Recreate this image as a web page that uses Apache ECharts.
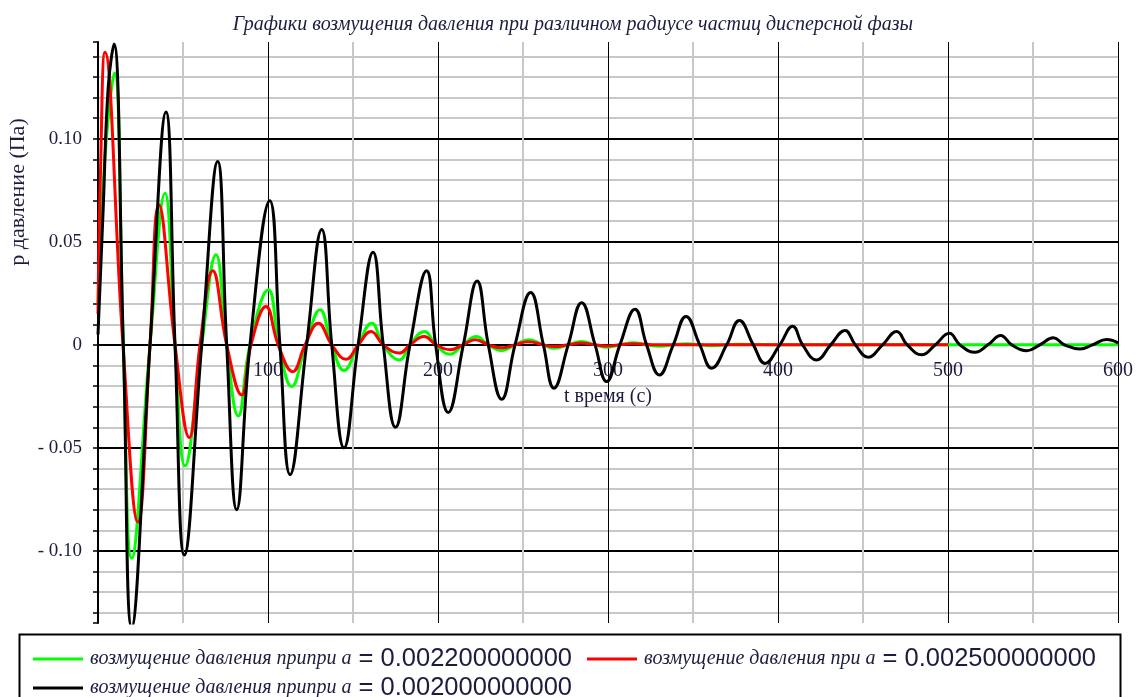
<!DOCTYPE html>
<html>
<head>
<meta charset="utf-8">
<script src="https://cdn.jsdelivr.net/npm/echarts@6/dist/echarts.min.js"></script>
<style>
  html, body { margin: 0; padding: 0; background: #fff; }
  #chart { width: 1146px; height: 697px; }
</style>
</head>
<body>
<div id="chart"></div>
<script>
// имена кривых (как в легенде)
const seriesNames = [
    'возмущение давления припри a = 0.002200000000',
    'возмущение давления при a = 0.002500000000',
    'возмущение давления припри a = 0.002000000000'
];

// a = 0.0022 (зелёная) — время, давление
const greenT = [0, 4, 9.7, 14.9, 19.8, 30.6, 39.4, 45.3, 51.2, 61, 69.4, 75.7, 82.5, 89.4, 100.2, 106.5, 113.9, 122.2,
    130.6, 137.5, 144.7, 153, 161, 167.8, 177.3, 183.5, 192, 198.8, 207, 214.7, 222.5, 229.6, 237.5, 245.3, 253.5, 262,
    268.5, 276.6, 284.5, 292.4, 299.5, 307, 315, 322.7, 330.5, 338.4, 346, 354, 361, 369.8, 377, 400, 500, 600];
const greenP = [0.02, 0.09, 0.132, 0, -0.1036, 0, 0.0736, 0, -0.0587, 0, 0.0437, 0, -0.0345, 0, 0.0267, 0, -0.0202, 0,
    0.017, 0, -0.0125, 0, 0.0105, 0, -0.0073, 0, 0.0065, 0, -0.0045, 0, 0.004, 0, -0.0028, 0, 0.0025, 0,
    -0.0017, 0, 0.0016, 0, -0.0011, 0, 0.001, 0, -0.0007, 0, 0.0006, 0, -0.0004, 0, 0.0003, 0, 0, 0];

// a = 0.0025 (красная), кривая заканчивается на t = 500
const redT = [0, 1.5, 4.1, 14.7, 23.5, 30.6, 35.8, 45.3, 53.7, 60, 67.5, 75.7, 84.5, 90, 98.8, 106, 114.5, 121.8,
    129.6, 137.5, 145.9, 153.1, 160.6, 167.8, 177.3, 183.5, 191.8, 199, 207, 214.5, 222, 229.6, 237.5, 245.3, 253, 262,
    268, 276.6, 284, 292.4, 299, 307, 314, 330, 400, 500];
const redP = [0.015, 0.085, 0.142, 0, -0.086, 0, 0.068, 0, -0.045, 0, 0.036, 0, -0.0243, 0, 0.0186, 0, -0.013, 0,
    0.0105, 0, -0.007, 0, 0.0065, 0, -0.004, 0, 0.004, 0, -0.0024, 0, 0.0025, 0, -0.0014, 0, 0.0015, 0,
    -0.0008, 0, 0.0009, 0, -0.0005, 0, 0.0005, 0, 0, 0];

// a = 0.002 (чёрная)
const blackT = [0, 3, 6, 9.4, 14.9, 19.8, 30.6, 40, 45.3, 50.8, 61, 70.4, 75.7, 81.6, 89.4, 101, 107, 113, 122.7,
    131.6, 137.5, 144.7, 153, 161.8, 167.8, 175, 183.5, 193.3, 198.6, 206, 214.9, 223, 229.6, 237.5, 245.3, 254.5, 262,
    268.2, 276.6, 284.5, 292.4, 299.2, 307, 315.9, 322.7, 330.2, 338.4, 345.9, 354, 361, 369.8, 377.3, 385.5, 392.4, 401,
    408.6, 414.5, 422.7, 431, 439.4, 445.5, 453, 461.5, 469.8, 476, 484.5, 492.5, 500.8, 507, 515.9, 523.5, 531, 537.5,
    546.3, 554, 562, 568.5, 577.6, 585, 593.3, 600];
const blackP = [0.005, 0.065, 0.125, 0.146, 0, -0.137, 0, 0.113, 0, -0.102, 0, 0.089, 0, -0.080, 0, 0.070, 0, -0.063, 0,
    0.056, 0, -0.050, 0, 0.045, 0, -0.040, 0, 0.036, 0, -0.0328, 0, 0.031, 0, -0.0264, 0, 0.0254, 0,
    -0.021, 0, 0.0205, 0, -0.0178, 0, 0.0173, 0, -0.0146, 0, 0.0138, 0, -0.0113, 0, 0.0118, 0, -0.009, 0,
    0.009, 0, -0.0073, 0, 0.007, 0, -0.006, 0, 0.0065, 0, -0.0048, 0, 0.0056, 0, -0.0036, 0, 0.0045, 0,
    -0.0028, 0, 0.0034, 0, -0.002, 0, 0.0026, 0.001];

const toPairs = (t, p) => t.map((v, i) => [v, p[i]]);

const labelColor = '#1c1c40';
const yMin = -0.135;
const yMax = 0.147;
const gridTop = 42;
const gridBottom = 74;
const chart = echarts.init(document.getElementById('chart'));

// ось t проходит через p = 0: сдвигаем её вверх от нижнего края сетки
const plotH = 697 - gridTop - gridBottom;
const zeroOffset = -Math.round(plotH * (0 - yMin) / (yMax - yMin));

const makeSeries = (name, color, data) => ({
    name: name,
    type: 'line',
    data: data,
    smooth: 0.45,
    showSymbol: false,
    symbol: 'none',
    color: color,
    lineStyle: { color: color, width: 3 },
    itemStyle: { color: color }
});

// общий вид строки легенды
const legendRow = (names, top) => ({
    data: names,
    left: 28,
    top: top,
    itemWidth: 50,
    itemHeight: 3,
    itemGap: 15,
    icon: 'rect',
    formatter: function (name) {
        const k = name.indexOf(' = ');
        return '{i|' + name.slice(0, k) + '}{n| ' + name.slice(k + 1) + '}';
    },
    textStyle: {
        rich: {
            i: { fontFamily: 'Liberation Serif', fontStyle: 'italic', fontSize: 20, color: labelColor, padding: [0, 0, 0, 2] },
            n: { fontFamily: 'Liberation Sans', fontSize: 25.5, color: labelColor }
        }
    }
});

chart.setOption({
    animation: false,
    title: {
        text: 'Графики возмущения давления при различном радиусе частиц дисперсной фазы',
        left: 'center',
        top: 10,
        textStyle: {
            fontFamily: 'Liberation Serif',
            fontStyle: 'italic',
            fontWeight: 'normal',
            fontSize: 20,
            color: labelColor
        }
    },
    grid: { left: 98, right: 28, top: gridTop, bottom: gridBottom },
    legend: [
        legendRow([seriesNames[0], seriesNames[1]], 641),
        legendRow([seriesNames[2]], 670)
    ],
    graphic: [
        {
            type: 'rect',
            left: 17, top: 632,
            shape: { width: 1101, height: 80 },
            style: { fill: 'none', stroke: '#000', lineWidth: 2 },
            z: 0
        },
        {
            type: 'text',
            x: 18, y: 192,
            rotation: Math.PI / 2,
            style: {
                text: 'p давление (Па)',
                font: '22px "Liberation Serif"',
                fill: labelColor,
                align: 'center',
                verticalAlign: 'middle'
            }
        }
    ],
    xAxis: {
        type: 'value',
        min: 0,
        max: 600,
        interval: 100,
        offset: zeroOffset,
        name: 't время (с)',
        nameLocation: 'middle',
        nameGap: 42,
        nameTextStyle: { fontFamily: 'Liberation Serif', fontSize: 20, color: labelColor },
        axisLine: { show: true, onZero: false, lineStyle: { color: '#000', width: 2 } },
        axisTick: { show: false },
        axisLabel: {
            showMinLabel: false,
            margin: 16,
            fontFamily: 'Liberation Serif',
            fontSize: 20,
            color: labelColor
        },
        splitLine: { show: true, lineStyle: { color: '#000', width: 1 } },
        minorTick: { show: false, splitNumber: 2 },
        minorSplitLine: { show: true, lineStyle: { color: '#c8c8c8', width: 2 } }
    },
    yAxis: {
        type: 'value',
        min: yMin,
        max: yMax,
        minInterval: 0.05,
        maxInterval: 0.05,
        axisLine: { show: true, onZero: false, lineStyle: { color: '#000', width: 2 } },
        axisTick: { show: true, length: 5, lineStyle: { color: '#000', width: 1.5 } },
        minorTick: { show: true, splitNumber: 5, length: 5, lineStyle: { color: '#000', width: 1.5 } },
        axisLabel: {
            showMinLabel: false,
            showMaxLabel: false,
            margin: 16,
            fontFamily: 'Liberation Serif',
            fontSize: 19,
            color: labelColor,
            formatter: function (v) {
                if (Math.abs(v) < 1e-9) return '0';
                return v < 0 ? '- ' + Math.abs(v).toFixed(2) : v.toFixed(2);
            }
        },
        splitLine: { show: true, showMinLine: false, showMaxLine: false, lineStyle: { color: '#000', width: 2 } },
        minorSplitLine: { show: true, lineStyle: { color: '#c8c8c8', width: 2 } }
    },
    series: [
        makeSeries(seriesNames[0], '#00ff00', toPairs(greenT, greenP)),
        makeSeries(seriesNames[1], '#ff0000', toPairs(redT, redP)),
        makeSeries(seriesNames[2], '#000000', toPairs(blackT, blackP))
    ]
});
</script>
</body>
</html>
